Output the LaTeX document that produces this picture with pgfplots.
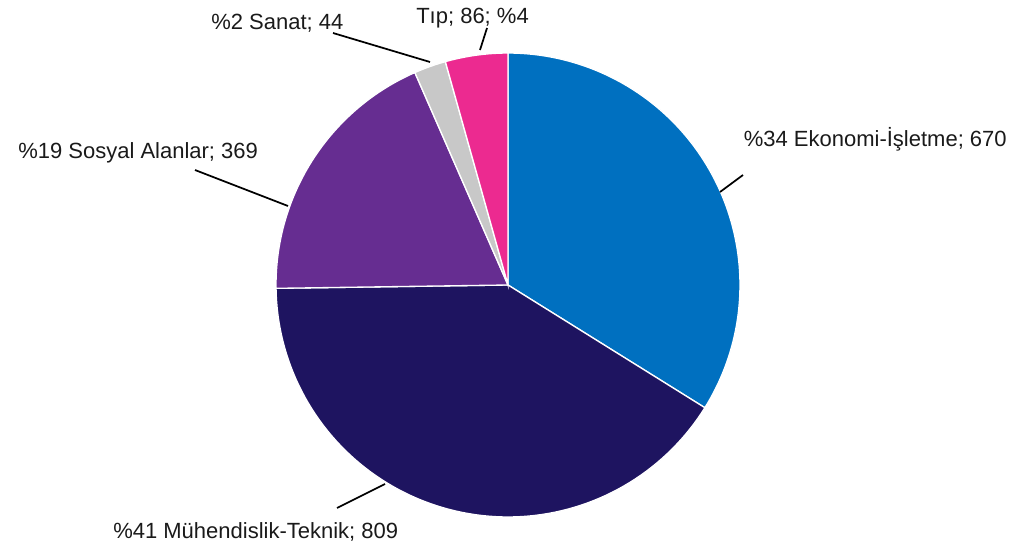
\documentclass[border=0pt]{standalone}
\usepackage{pgfplots}
\pgfplotsset{compat=1.18}
\usepackage{pgfplotstable}
\usepackage{fontspec}
\setmainfont{Liberation Sans}

\definecolor{ekon}{HTML}{0070C0}
\definecolor{muh}{HTML}{1E1460}
\definecolor{sos}{HTML}{662D91}
\definecolor{san}{HTML}{C8C8C8}
\definecolor{tip}{HTML}{EC2A90}
\definecolor{txt}{HTML}{1A1A1A}

\begin{document}
\begin{tikzpicture}[
    lbl/.style={font=\fontsize{16.5}{19}\selectfont, text=txt, inner sep=0pt, anchor=west},
    ldr/.style={draw=black, line width=1.3pt}
  ]
  % slices, clockwise from the top
  \pgfplotstableread{
  value
  670
  809
  369
  44
  86
  }\piedata
  \pgfplotstablegetelem{0}{value}\of\piedata\let\vA\pgfplotsretval
  \pgfplotstablegetelem{1}{value}\of\piedata\let\vB\pgfplotsretval
  \pgfplotstablegetelem{2}{value}\of\piedata\let\vC\pgfplotsretval
  \pgfplotstablegetelem{3}{value}\of\piedata\let\vD\pgfplotsretval
  \pgfplotstablegetelem{4}{value}\of\piedata\let\vE\pgfplotsretval
  \pgfmathsetmacro{\tot}{\vA+\vB+\vC+\vD+\vE}
  \pgfmathsetmacro{\aA}{90}
  \pgfmathsetmacro{\aB}{\aA-360*(\vA/\tot)}
  \pgfmathsetmacro{\aC}{\aB-360*(\vB/\tot)}
  \pgfmathsetmacro{\aD}{\aC-360*(\vC/\tot)}
  \pgfmathsetmacro{\aE}{\aD-360*(\vD/\tot)}
  \pgfmathsetmacro{\aF}{\aE-360*(\vE/\tot)}
  \begin{axis}[
      width=758.25pt, height=413.25pt, scale only axis,
      xmin=0, xmax=1011, ymin=0, ymax=551,
      axis lines=none, xtick=\empty, ytick=\empty, clip=false,
      every axis plot/.append style={no markers, draw=white, line width=1pt}
    ]
    \addplot[fill=ekon, domain=\aB:\aA, samples=90, variable=\t]
      ({508+232*cos(\t)}, {266+232*sin(\t)}) -- (axis cs:508,266) -- cycle;
    \addplot[fill=muh, domain=\aC:\aB, samples=90, variable=\t]
      ({508+232*cos(\t)}, {266+232*sin(\t)}) -- (axis cs:508,266) -- cycle;
    \addplot[fill=sos, domain=\aD:\aC, samples=60, variable=\t]
      ({508+232*cos(\t)}, {266+232*sin(\t)}) -- (axis cs:508,266) -- cycle;
    \addplot[fill=san, domain=\aE:\aD, samples=15, variable=\t]
      ({508+232*cos(\t)}, {266+232*sin(\t)}) -- (axis cs:508,266) -- cycle;
    \addplot[fill=tip, domain=\aF:\aE, samples=20, variable=\t]
      ({508+232*cos(\t)}, {266+232*sin(\t)}) -- (axis cs:508,266) -- cycle;

    \node[lbl, anchor=east] at (axis cs:1007,412) {\%34 Ekonomi-İşletme; 670};
    \draw[ldr] (axis cs:720,359) -- (axis cs:743,376);
    \node[lbl] at (axis cs:113,19) {\%41 Mühendislik-Teknik; 809};
    \draw[ldr] (axis cs:337,43) -- (axis cs:385,67);
    \node[lbl] at (axis cs:18,398) {\%19 Sosyal Alanlar; 369};
    \draw[ldr] (axis cs:195,381) -- (axis cs:288,345);
    \node[lbl] at (axis cs:211,528) {\%2 Sanat; 44};
    \draw[ldr] (axis cs:333,518) -- (axis cs:430,489);
    \node[lbl] at (axis cs:416,533) {Tıp; 86; \%4};
    \draw[ldr] (axis cs:487,523) -- (axis cs:480,501);

    \coordinate (bl) at (rel axis cs:0,0);
    \coordinate (tr) at (rel axis cs:1,1);
  \end{axis}
  \pgfresetboundingbox
  \path (bl) rectangle (tr);
\end{tikzpicture}
\end{document}
